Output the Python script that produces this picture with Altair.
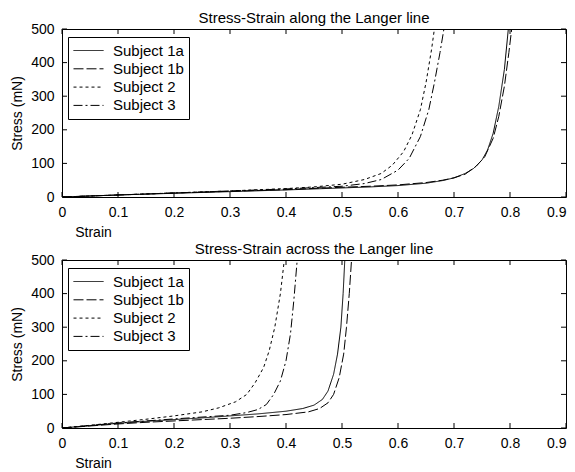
import altair as alt
import pandas as pd

FONT = "Liberation Sans"

SUBJECTS = ["Subject 1a", "Subject 1b", "Subject 2", "Subject 3"]
DASHES = [[1, 0], [10, 3], [3, 3], [9, 3, 2, 3]]

X_TICKS = [0, 0.1, 0.2, 0.3, 0.4, 0.5, 0.6, 0.7, 0.8, 0.9]
Y_TICKS = [0, 100, 200, 300, 400, 500]

TITLE_TOP = "Stress-Strain along the Langer line"
TITLE_BOTTOM = "Stress-Strain across the Langer line"

# --- along the Langer line (top panel) ---
ALONG_1A_STRAIN = [0, 0.05, 0.1, 0.2, 0.3, 0.4, 0.5, 0.55, 0.6, 0.65, 0.68, 0.7, 0.72, 0.735, 0.75, 0.76, 0.77, 0.78, 0.79, 0.797]
ALONG_1A_STRESS = [0, 3, 6, 11, 16, 21, 27, 30, 34, 41, 49, 57, 70, 85, 110, 140, 190, 270, 380, 500]
ALONG_1B_STRAIN = [0, 0.05, 0.1, 0.2, 0.3, 0.4, 0.5, 0.55, 0.6, 0.65, 0.68, 0.7, 0.72, 0.74, 0.755, 0.77, 0.78, 0.79, 0.798, 0.803]
ALONG_1B_STRESS = [0, 3, 6, 12, 17, 22, 29, 32, 36, 43, 50, 57, 68, 92, 120, 175, 240, 330, 430, 500]
ALONG_2_STRAIN = [0, 0.1, 0.2, 0.3, 0.4, 0.45, 0.5, 0.54, 0.57, 0.59, 0.61, 0.625, 0.64, 0.65, 0.66, 0.665]
ALONG_2_STRESS = [0, 6, 12, 18, 25, 30, 38, 52, 70, 95, 135, 185, 260, 340, 440, 500]
ALONG_3_STRAIN = [0, 0.1, 0.2, 0.3, 0.4, 0.5, 0.54, 0.57, 0.6, 0.62, 0.64, 0.655, 0.665, 0.675, 0.682]
ALONG_3_STRESS = [0, 6, 12, 18, 24, 32, 40, 52, 80, 115, 180, 260, 340, 430, 500]

# --- across the Langer line (bottom panel) ---
ACROSS_1A_STRAIN = [0, 0.05, 0.1, 0.15, 0.2, 0.25, 0.3, 0.35, 0.4, 0.43, 0.45, 0.465, 0.475, 0.485, 0.492, 0.498, 0.502, 0.505]
ACROSS_1A_STRESS = [0, 7, 14, 20, 25, 30, 36, 42, 50, 58, 68, 85, 110, 160, 220, 300, 400, 500]
ACROSS_1B_STRAIN = [0, 0.05, 0.1, 0.15, 0.2, 0.25, 0.3, 0.35, 0.4, 0.44, 0.46, 0.475, 0.485, 0.495, 0.503, 0.508, 0.513, 0.517]
ACROSS_1B_STRESS = [0, 6, 12, 17, 21, 25, 29, 34, 40, 48, 58, 75, 100, 150, 220, 300, 400, 500]
ACROSS_2_STRAIN = [0, 0.05, 0.1, 0.15, 0.2, 0.25, 0.28, 0.31, 0.33, 0.345, 0.36, 0.37, 0.38, 0.39, 0.397]
ACROSS_2_STRESS = [0, 8, 17, 26, 36, 48, 60, 78, 100, 135, 180, 230, 300, 400, 500]
ACROSS_3_STRAIN = [0, 0.1, 0.2, 0.3, 0.33, 0.35, 0.365, 0.378, 0.39, 0.4, 0.408, 0.414, 0.42]
ACROSS_3_STRESS = [0, 15, 27, 38, 46, 55, 70, 100, 140, 200, 280, 380, 500]

W, H = 504, 168


def make_df(series):
    rows = []
    for name, (xs, ys) in zip(SUBJECTS, series):
        for i, (x, y) in enumerate(zip(xs, ys)):
            rows.append({"subject": name, "strain": x, "stress": y, "idx": i})
    return pd.DataFrame(rows)


def panel(series, title):
    df = make_df(series)
    xscale = alt.Scale(domain=[0, 0.9], nice=False)
    yscale = alt.Scale(domain=[0, 500], nice=False)
    xaxis = alt.Axis(values=X_TICKS, ticks=False, tickSize=0, domain=False, grid=False,
                     labelOverlap=False, labelFlush=False,
                     labelAlign={"condition": {"test": "datum.value >= 0.89", "value": "right"},
                                 "value": "center"},
                     labelExpr="datum.value == 0 ? '0' : format(datum.value, '.1f')",
                     labelPadding=8, labelFontSize=14, labelFont=FONT, labelColor="black",
                     title="Strain", titleFont=FONT, titleFontSize=14, titleFontWeight="normal",
                     titleColor="black", titleX=31, titleY=35, titleAlign="center",
                     titleBaseline="middle", titleAnchor="start")
    yaxis = alt.Axis(values=Y_TICKS, ticks=False, tickSize=0, domain=False, grid=False,
                     labelOverlap=False, labelFlush=False,
                     labelPadding=8, labelFontSize=14, labelFont=FONT, labelColor="black",
                     title="Stress (mN)", titleFont=FONT, titleFontSize=14, titleFontWeight="normal",
                     titleColor="black", titleX=-45, titleY=H / 2, titleAlign="center",
                     titleBaseline="middle", titleAngle=270, titleAnchor="start")
    legend = alt.Legend(orient="none", legendX=6, legendY=8, title=None, direction="vertical",
                        strokeColor="black", fillColor="white", padding=5,
                        symbolType="stroke", symbolSize=900, symbolStrokeWidth=1,
                        symbolStrokeColor="black", labelFontSize=15, labelFont=FONT,
                        labelColor="black", labelOffset=9, rowPadding=1.3, clipHeight=17,
                        cornerRadius=0)
    lines = alt.Chart(df).mark_line(color="black", strokeWidth=1, clip=True).encode(
        x=alt.X("strain:Q", scale=xscale, axis=xaxis, title="Strain"),
        y=alt.Y("stress:Q", scale=yscale, axis=yaxis, title="Stress (mN)"),
        strokeDash=alt.StrokeDash("subject:N", scale=alt.Scale(domain=SUBJECTS, range=DASHES),
                                  legend=legend),
        detail="subject:N",
        order="idx:Q",
    )
    xt = pd.DataFrame({"v": X_TICKS})
    yt = pd.DataFrame({"v": Y_TICKS})
    tick_len = 5
    xb = alt.Chart(xt).mark_rule(color="black", strokeWidth=1).encode(
        x=alt.X("v:Q", scale=xscale, axis=xaxis, title="Strain"),
        y=alt.value(H), y2=alt.value(H - tick_len))
    xtop = alt.Chart(xt).mark_rule(color="black", strokeWidth=1).encode(
        x=alt.X("v:Q", scale=xscale, axis=xaxis, title="Strain"),
        y=alt.value(0), y2=alt.value(tick_len))
    yl = alt.Chart(yt).mark_rule(color="black", strokeWidth=1).encode(
        y=alt.Y("v:Q", scale=yscale, axis=yaxis, title="Stress (mN)"),
        x=alt.value(0), x2=alt.value(tick_len))
    yr = alt.Chart(yt).mark_rule(color="black", strokeWidth=1).encode(
        y=alt.Y("v:Q", scale=yscale, axis=yaxis, title="Stress (mN)"),
        x=alt.value(W), x2=alt.value(W - tick_len))
    return alt.layer(lines, xb, xtop, yl, yr).properties(
        width=W, height=H,
        title=alt.TitleParams(title, font=FONT, fontSize=15, fontWeight="normal",
                              color="black", anchor="middle", offset=-4),
    )


top = panel([(ALONG_1A_STRAIN, ALONG_1A_STRESS), (ALONG_1B_STRAIN, ALONG_1B_STRESS),
             (ALONG_2_STRAIN, ALONG_2_STRESS), (ALONG_3_STRAIN, ALONG_3_STRESS)], TITLE_TOP)
bottom = panel([(ACROSS_1A_STRAIN, ACROSS_1A_STRESS), (ACROSS_1B_STRAIN, ACROSS_1B_STRESS),
                (ACROSS_2_STRAIN, ACROSS_2_STRESS), (ACROSS_3_STRAIN, ACROSS_3_STRESS)], TITLE_BOTTOM)

chart = alt.vconcat(top, bottom, spacing=1).resolve_scale(
    strokeDash="independent").resolve_legend(strokeDash="independent").properties(
    padding={"left": 1, "top": 2, "right": 0, "bottom": 0},
    background="white",
).configure_view(stroke="black", strokeWidth=1).configure_axis(grid=False)

chart.save("out.html", embed_options={"renderer": "svg", "actions": False})
